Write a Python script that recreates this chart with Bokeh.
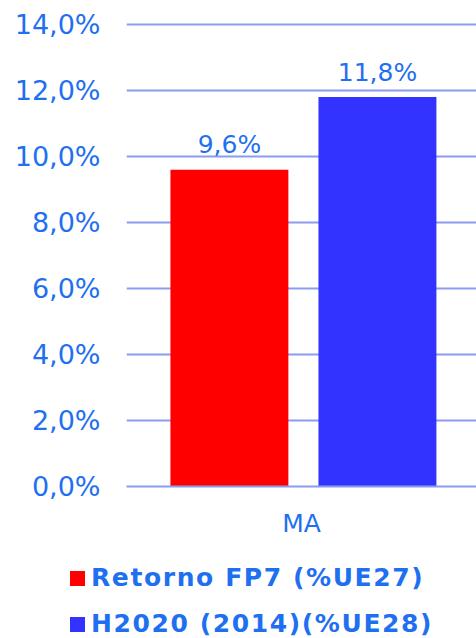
from bokeh.plotting import figure
from bokeh.layouts import column
from bokeh.models import FactorRange, Range1d, FixedTicker, ColumnDataSource, Div
from bokeh.transform import dodge
from bokeh.core.properties import value
from bokeh.embed import file_html
from bokeh.resources import INLINE

categories = ["MA"]
series_names = ["Retorno FP7 (%UE27)", "H2020 (2014)(%UE28)"]
series_colors = ["#FF0000", "#3333FF"]
fp7_values = [9.6]
h2020_values = [11.8]
fp7_labels = ["9,6%"]
h2020_labels = ["11,8%"]
y_ticks = [0, 2, 4, 6, 8, 10, 12, 14]
y_tick_labels = ["0,0%", "2,0%", "4,0%", "6,0%", "8,0%", "10,0%", "12,0%", "14,0%"]

TEXT = "#1F70F0"
GRID = "#8C9CF0"
FONT = "DejaVu Sans"

src = ColumnDataSource(dict(cat=categories, fp7=fp7_values, h2020=h2020_values,
                            fp7_lab=fp7_labels, h2020_lab=h2020_labels))

p = figure(x_range=FactorRange(*categories), y_range=Range1d(0, 14.09),
           width=476, height=560, output_backend="svg", toolbar_location=None,
           min_border_left=126, min_border_right=0, min_border_top=21, min_border_bottom=74)
p.outline_line_color = None

p.vbar(x=dodge("cat", -0.206, range=p.x_range), top="fp7", width=0.337, source=src,
       fill_color=series_colors[0], line_color=None)
p.vbar(x=dodge("cat", 0.217, range=p.x_range), top="h2020", width=0.337, source=src,
       fill_color=series_colors[1], line_color=None)

p.text(x=dodge("cat", -0.206, range=p.x_range), y="fp7", text="fp7_lab", source=src,
       text_align="center", text_baseline="alphabetic", y_offset=-25,
       text_font=value(FONT), text_font_size="25px", text_color=TEXT)
p.text(x=dodge("cat", 0.217, range=p.x_range), y="h2020", text="h2020_lab", source=src,
       text_align="center", text_baseline="alphabetic", y_offset=-25,
       text_font=value(FONT), text_font_size="25px", text_color=TEXT)

p.xgrid.grid_line_color = None
p.ygrid.grid_line_color = GRID
p.ygrid.grid_line_width = 2
p.yaxis.ticker = FixedTicker(ticks=y_ticks)
p.yaxis.major_label_overrides = {t: l for t, l in zip(y_ticks, y_tick_labels)}
p.yaxis.axis_line_color = None
p.yaxis.major_tick_line_color = None
p.yaxis.minor_tick_line_color = None
p.yaxis.major_tick_out = 0
p.yaxis.major_label_standoff = 26
p.yaxis.major_label_text_font = FONT
p.yaxis.major_label_text_font_size = "27px"
p.yaxis.major_label_text_color = TEXT

p.xaxis.axis_line_color = GRID
p.xaxis.axis_line_width = 2
p.xaxis.major_tick_line_color = None
p.xaxis.minor_tick_line_color = None
p.xaxis.major_tick_out = 0
p.xaxis.major_label_standoff = 22
p.xaxis.major_label_text_font = FONT
p.xaxis.major_label_text_font_size = "25px"
p.xaxis.major_label_text_color = TEXT

rows = "".join(
    f'<div style="height:46px;line-height:46px;white-space:nowrap;">'
    f'<span style="display:inline-block;width:15px;height:15px;background:{c};'
    f'margin-right:6px;vertical-align:baseline;"></span>{name}</div>'
    for name, c in zip(series_names, series_colors)
)
legend_html = (f'<div style="font-family:\'{FONT}\';font-weight:bold;font-size:25px;'
               f'letter-spacing:1.6px;color:{TEXT};padding-left:70px;margin-top:-5px;">'
               f'{rows}</div>')
legend_div = Div(text=legend_html, width=476, height=78, margin=(0, 0, 0, 0))

layout = column(p, legend_div, spacing=0)
open("out.html", "w").write(file_html(layout, INLINE))
